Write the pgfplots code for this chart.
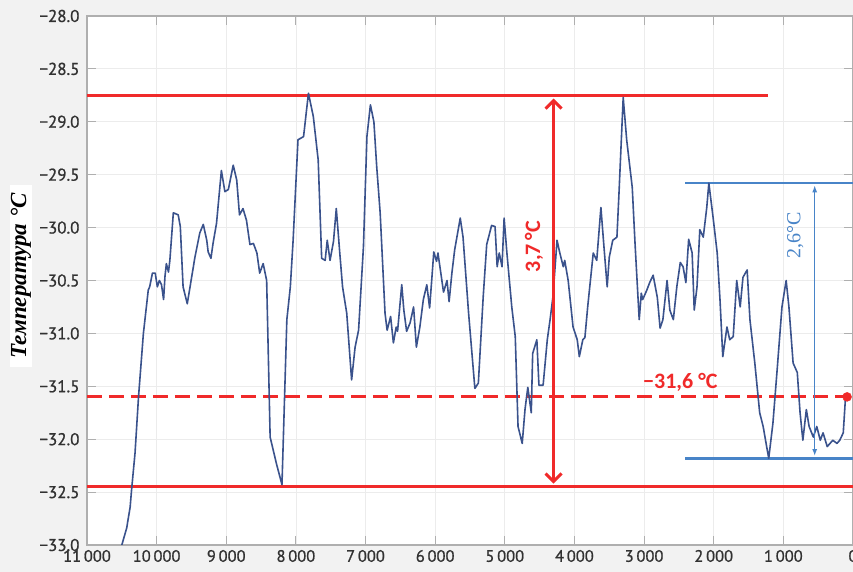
\documentclass[border=0pt]{standalone}
\usepackage{fontspec}
\usepackage{pgfplots}
\pgfplotsset{compat=1.18}
\usetikzlibrary{arrows.meta}
\setmainfont{Liberation Serif}
\newfontfamily\tickfont{PT Sans}[FakeBold=1]
\newfontfamily\notefont{Carlito}

\definecolor{pagebg}{RGB}{242,242,242}
\definecolor{framegray}{RGB}{175,175,175}
\definecolor{gridgray}{RGB}{236,236,236}
\definecolor{ticktext}{RGB}{50,50,50}
\definecolor{curve}{RGB}{58,82,140}
\definecolor{markred}{RGB}{240,42,42}
\definecolor{markblue}{RGB}{72,132,200}

\begin{document}
\begin{tikzpicture}
% page area: axis box is 766 x 529 with room for labels around it
\path[use as bounding box] (-87pt,-27pt) rectangle (766pt,545pt);
\fill[pagebg] (-87pt,-27pt) rectangle (766pt,545pt);

\begin{axis}[
  scale only axis,
  width=766pt, height=529pt,
  x dir=reverse,
  xmin=0, xmax=11000,
  ymin=-33, ymax=-28,
  scaled x ticks=false,
  scaled y ticks=false,
  xtick={0,1000,2000,3000,4000,5000,6000,7000,8000,9000,10000,11000},
  xticklabels={0,1\,000,2\,000,3\,000,4\,000,5\,000,6\,000,7\,000,8\,000,9\,000,10\,000,11\,000},
  ytick={-33,-32.5,-32,-31.5,-31,-30.5,-30,-29.5,-29,-28.5,-28},
  yticklabels={−33.0,−32.5,−32.0,−31.5,−31.0,−30.5,−30.0,−29.5,−29.0,−28.5,−28.0},
  tick align=inside,
  major tick length=9pt,
  tick style={framegray, line width=1pt},
  grid=major,
  grid style={gridgray, line width=0.8pt},
  axis line style={framegray, line width=1.5pt},
  axis background/.style={fill=white},
  xticklabel style={font=\tickfont\fontsize{16.5}{18}\selectfont, text=ticktext, yshift=-1.5pt},
  yticklabel style={font=\tickfont\fontsize{17}{19}\selectfont, text=ticktext, xshift=-4pt},
  clip=true,
]

% reference levels
\addplot[markred, line width=3pt] coordinates {(11000,-28.75) (1220,-28.75)};
\addplot[markred, line width=3pt] coordinates {(11000,-32.45) (0,-32.45)};
\addplot[markred, line width=3pt, dash pattern=on 15pt off 7pt] coordinates {(11000,-31.6) (85,-31.6)};
\addplot[markblue, line width=2.6pt] coordinates {(2410,-29.58) (0,-29.58)};
\addplot[markblue, line width=2.6pt] coordinates {(2410,-32.18) (0,-32.18)};

% temperature record
\addplot[curve, line width=1.6pt, line join=round] coordinates {
(10500,-33.00) (10430,-32.84) (10380,-32.64) (10360,-32.48) (10310,-32.13)
(10260,-31.60) (10190,-31.00) (10120,-30.59) (10100,-30.56) (10060,-30.43)
(10020,-30.43) (9990,-30.56) (9960,-30.50) (9930,-30.54) (9900,-30.68)
(9880,-30.46) (9860,-30.34) (9830,-30.42) (9810,-30.31) (9760,-29.86)
(9690,-29.88) (9660,-29.99) (9620,-30.56) (9560,-30.72) (9520,-30.56)
(9450,-30.28) (9380,-30.05) (9330,-29.97) (9280,-30.12) (9260,-30.23)
(9220,-30.29) (9190,-30.15) (9140,-29.96) (9070,-29.46) (9020,-29.66)
(8970,-29.64) (8900,-29.41) (8850,-29.55) (8810,-29.88) (8760,-29.82)
(8710,-29.93) (8660,-30.16) (8610,-30.15) (8560,-30.24) (8520,-30.43)
(8470,-30.34) (8420,-30.50) (8370,-31.98) (8280,-32.23) (8200,-32.43)
(8130,-30.87) (8080,-30.56) (8040,-30.12) (7970,-29.17) (7890,-29.14)
(7820,-28.73) (7750,-28.95) (7680,-29.36) (7630,-30.29) (7580,-30.31)
(7550,-30.12) (7510,-30.31) (7460,-30.13) (7420,-29.82) (7370,-30.24)
(7330,-30.56) (7270,-30.81) (7200,-31.44) (7150,-31.13) (7100,-30.97)
(7030,-30.18) (6980,-29.14) (6930,-28.84) (6880,-29.00) (6840,-29.42)
(6790,-29.86) (6720,-30.81) (6690,-30.97) (6640,-30.84) (6600,-31.09)
(6560,-30.94) (6540,-30.98) (6480,-30.54) (6450,-30.78) (6410,-30.98)
(6360,-30.90) (6310,-30.75) (6270,-31.13) (6220,-30.94) (6170,-30.68)
(6120,-30.54) (6080,-30.76) (6050,-30.50) (6020,-30.23) (5980,-30.32)
(5960,-30.24) (5880,-30.61) (5830,-30.50) (5800,-30.70) (5760,-30.43)
(5720,-30.21) (5640,-29.91) (5600,-30.09) (5520,-30.81) (5430,-31.52)
(5380,-31.47) (5310,-30.65) (5260,-30.16) (5190,-29.98) (5140,-29.99)
(5110,-30.37) (5080,-30.24) (5040,-30.37) (5010,-29.91) (4970,-30.24)
(4900,-30.75) (4850,-31.03) (4810,-31.88) (4750,-32.04) (4710,-31.72)
(4670,-31.51) (4620,-31.75) (4600,-31.19) (4540,-31.06) (4510,-31.49)
(4450,-31.49) (4390,-31.06) (4350,-30.87) (4310,-30.66) (4250,-30.12)
(4210,-30.24) (4160,-30.37) (4140,-30.31) (4090,-30.50) (4020,-30.94)
(3960,-31.06) (3930,-31.22) (3880,-31.06) (3850,-31.04) (3810,-30.75)
(3730,-30.24) (3680,-30.31) (3620,-29.81) (3580,-30.15) (3530,-30.56)
(3500,-30.28) (3450,-30.12) (3390,-30.09) (3360,-29.67) (3300,-28.77)
(3250,-29.17) (3170,-29.62) (3130,-30.15) (3070,-30.87) (3040,-30.62)
(3020,-30.68) (2960,-30.59) (2920,-30.52) (2870,-30.45) (2810,-30.66)
(2770,-30.95) (2730,-30.87) (2670,-30.50) (2630,-30.78) (2580,-30.87)
(2530,-30.56) (2480,-30.33) (2440,-30.37) (2400,-30.52) (2360,-30.11)
(2310,-30.24) (2280,-30.78) (2240,-30.56) (2200,-30.02) (2150,-30.09)
(2100,-29.81) (2070,-29.58) (2010,-29.90) (1950,-30.24) (1910,-30.68)
(1870,-31.22) (1810,-30.94) (1770,-31.06) (1720,-31.03) (1670,-30.50)
(1620,-30.75) (1580,-30.47) (1520,-30.40) (1480,-30.87) (1410,-31.28)
(1340,-31.75) (1290,-31.88) (1240,-32.07) (1210,-32.18) (1150,-31.85)
(1090,-31.35) (1020,-30.75) (960,-30.50) (920,-30.75) (860,-31.28)
(800,-31.37) (760,-31.75) (720,-32.01) (670,-31.72) (630,-31.88)
(570,-31.98) (520,-31.88) (470,-32.01) (430,-31.94) (370,-32.07)
(330,-32.04) (290,-32.01) (230,-32.04) (190,-32.01) (140,-31.94)
(110,-31.63) (85,-31.60)
};

% end point of the mean level
\addplot[only marks, mark=*, mark size=4.5pt, markred] coordinates {(85,-31.6)};

% ranges
\draw[markred, line width=3pt, {Straight Barb[length=8pt,width=16pt]}-{Straight Barb[length=8pt,width=16pt]}]
  (axis cs:4300,-28.78) -- (axis cs:4300,-32.42);
\draw[markblue, line width=1.4pt, {Latex[length=7pt,width=5pt]}-{Latex[length=7pt,width=5pt]}]
  (axis cs:550,-29.60) -- (axis cs:550,-32.16);

\node[rotate=90, text=markred, font=\notefont\bfseries\fontsize{22}{24}\selectfont]
  at (axis cs:4580,-30.18) {3,7\,°C};
\node[text=markred, font=\notefont\bfseries\fontsize{22}{24}\selectfont]
  at (axis cs:2480,-31.46) {−31,6 °C};
\node[rotate=90, text=markblue, font=\fontsize{20}{22}\selectfont]
  at (axis cs:830,-30.07) {2,6°C};
\end{axis}

% vertical axis title on its white plate
\node[rotate=90, fill=white, inner xsep=8pt, inner ysep=1pt,
      font=\bfseries\itshape\fontsize{23}{25}\selectfont]
  at (-66pt,269pt) {Температура °C};
\end{tikzpicture}
\end{document}
